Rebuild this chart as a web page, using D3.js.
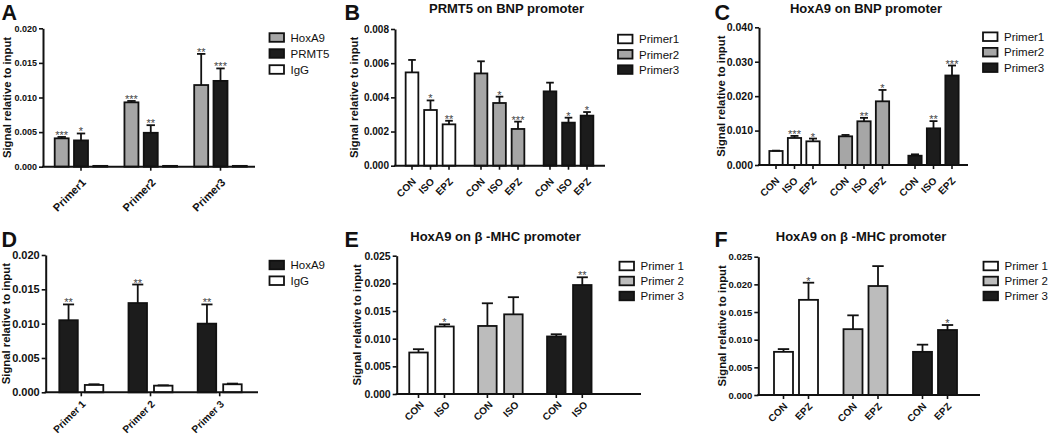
<!DOCTYPE html>
<html>
<head>
<meta charset="utf-8">
<script src="https://cdn.jsdelivr.net/npm/d3@7"></script>
<style>
  body { margin: 0; background: #fff; }
  text { font-family: "Liberation Sans", Arial, sans-serif; fill: #111; }
</style>
</head>
<body>
<script>
// panel A: ChIP at BNP promoter, per antibody
var primersA = ['Primer1', 'Primer2', 'Primer3']
var antibodiesA = ['HoxA9', 'PRMT5', 'IgG']
var meansA = [[0.0041, 0.0093, 0.0118], [0.0038, 0.0049, 0.0124], [0.00012, 0.00012, 0.00012]]
var errsA = [[0.0002, 0.0002, 0.0045], [0.0010, 0.0011, 0.0018], [0, 0, 0]]
var starsA = [['***', '***', '**'], ['*', '**', '***'], ['', '', '']]

// panel B: PRMT5 on BNP promoter
var primersB = ['Primer1', 'Primer2', 'Primer3']
var condB = ['CON', 'ISO', 'EPZ']
var meansB = [[0.00546, 0.00326, 0.00242], [0.00540, 0.00367, 0.00215], [0.00435, 0.00252, 0.00293]]
var errsB = [[0.00073, 0.00056, 0.00021], [0.00071, 0.00037, 0.00043], [0.00051, 0.00029, 0.00021]]
var starsB = [['', '*', '**'], ['', '*', '***'], ['', '*', '*']]

// panel C: HoxA9 on BNP promoter
var primersC = ['Primer1', 'Primer2', 'Primer3']
var condC = ['CON', 'ISO', 'EPZ']
var meansC = [[0.00407, 0.00785, 0.00688], [0.00833, 0.0127, 0.0185], [0.0027, 0.01065, 0.0260]]
var errsC = [[0.0001, 0.0006, 0.0008], [0.0004, 0.0010, 0.0033], [0.0004, 0.0021, 0.0029]]
var starsC = [['', '***', '*'], ['', '**', '*'], ['', '**', '***']]

// panel D: HoxA9 vs IgG
var primersD = ['Primer 1', 'Primer 2', 'Primer 3']
var antibodiesD = ['HoxA9', 'IgG']
var meansD = [[0.0105, 0.0130, 0.0100], [0.00107, 0.00097, 0.00117]]
var errsD = [[0.0023, 0.0027, 0.0028], [0.0001, 0.00005, 0.0001]]
var starsD = [['**', '**', '**'], ['', '', '']]

// panel E: HoxA9 on beta-MHC, ISO
var primersE = ['Primer 1', 'Primer 2', 'Primer 3']
var condE = ['CON', 'ISO']
var meansE = [[0.0075, 0.0122], [0.0123, 0.0144], [0.0104, 0.0197]]
var errsE = [[0.0006, 0.0004], [0.0041, 0.0031], [0.0004, 0.0014]]
var starsE = [['', '*'], ['', ''], ['', '**']]

// panel F: HoxA9 on beta-MHC, EPZ
var primersF = ['Primer 1', 'Primer 2', 'Primer 3']
var condF = ['CON', 'EPZ']
var meansF = [[0.0078, 0.0172], [0.0119, 0.0197], [0.0078, 0.01175]]
var errsF = [[0.0005, 0.0031], [0.0025, 0.0036], [0.0013, 0.0009]]
var starsF = [['', '*'], ['', ''], ['', '*']]

var WHITE = '#ffffff', GRAY = '#a6a6a6', LIGHT = '#bcbcbc', BLACK = '#1c1c1c'

var svg = d3.select('body').append('svg').attr('width', 1052).attr('height', 438)

// rows grouped by x group: by antibody (A, D) or by condition inside primer (B, C, E, F)
function rowsBySeries (groups, series, means, errs, stars) {
  var rows = []
  groups.forEach(function (g, gi) {
    series.forEach(function (s, si) {
      rows.push({group: g, key: s, value: means[si][gi], err: errs[si][gi], star: stars[si][gi], si: si})
    })
  })
  return rows
}
function rowsByPrimer (groups, conds, means, errs, stars) {
  var rows = []
  groups.forEach(function (g, gi) {
    conds.forEach(function (k, ki) {
      rows.push({group: g, key: k, value: means[gi][ki], err: errs[gi][ki], star: stars[gi][ki], si: gi})
    })
  })
  return rows
}

function drawPanel (c) {
  var g = svg.append('g')
  var y = d3.scaleLinear().domain([0, c.yMax]).range([c.y0, c.yTop])
  var gx = d3.scalePoint().domain(c.groups).range([c.c1, c.c3])
  var n = c.keys.length, pad = 1 - c.barW / c.step
  var kx = d3.scaleBand().domain(c.keys).range([-n * c.step / 2, n * c.step / 2]).paddingInner(pad).paddingOuter(pad / 2)
  var bw = kx.bandwidth()
  var cx = function (d) { return gx(d.group) + kx(d.key) + bw / 2 }

  /** y axis */
  var yAxis = d3.axisLeft(y).tickValues(d3.range(0, c.yMax + 1e-9, c.yStep))
    .tickFormat(d3.format('.3f')).tickSize(4).tickSizeOuter(0).tickPadding(2)
  var ya = g.append('g').attr('transform', 'translate(' + c.x0 + ',0)').call(yAxis)
  ya.select('.domain').attr('stroke', '#111').attr('stroke-width', 2)
  ya.selectAll('.tick line').attr('stroke', '#111').attr('stroke-width', 1.6)
  ya.selectAll('.tick text').attr('font-size', c.tickFont).attr('font-weight', 'bold')
    .attr('font-family', '"Liberation Sans", Arial, sans-serif').attr('fill', '#111')

  /** bars */
  g.selectAll('rect.bar').data(c.rows).enter().append('rect').attr('class', 'bar')
    .attr('x', function (d) { return gx(d.group) + kx(d.key) })
    .attr('y', function (d) { return y(d.value) })
    .attr('width', bw)
    .attr('height', function (d) { return c.y0 - y(d.value) })
    .attr('fill', function (d) { return c.fills[d.si] })
    .attr('stroke', '#111').attr('stroke-width', 1.8)

  /** error bars */
  var eb = c.rows.filter(function (d) { return d.err > 0 })
  g.selectAll('line.stem').data(eb).enter().append('line')
    .attr('x1', cx).attr('x2', cx)
    .attr('y1', function (d) { return y(d.value) })
    .attr('y2', function (d) { return y(d.value + d.err) })
    .attr('stroke', '#111').attr('stroke-width', 1.8)
  g.selectAll('line.cap').data(eb).enter().append('line')
    .attr('x1', function (d) { return cx(d) - bw * 0.3 })
    .attr('x2', function (d) { return cx(d) + bw * 0.3 })
    .attr('y1', function (d) { return y(d.value + d.err) })
    .attr('y2', function (d) { return y(d.value + d.err) })
    .attr('stroke', '#111').attr('stroke-width', 1.8)

  /** significance stars */
  g.selectAll('text.star').data(c.rows.filter(function (d) { return d.star })).enter().append('text')
    .attr('x', cx)
    .attr('y', function (d) { return y(d.value + d.err) + 2 })
    .attr('text-anchor', 'middle').attr('font-size', 11).style('fill', '#444')
    .text(function (d) { return d.star })

  /** x axis */
  g.append('line').attr('x1', c.x0 - 1).attr('x2', c.x1).attr('y1', c.y0).attr('y2', c.y0)
    .attr('stroke', '#111').attr('stroke-width', 2)
  var xt
  if (c.labelBy === 'group') {
    xt = c.groups.map(function (gname) { return {x: gx(gname), label: gname} })
  } else {
    xt = c.rows.map(function (d) { return {x: cx(d), label: d.key} })
  }
  g.selectAll('line.xt').data(xt).enter().append('line')
    .attr('x1', function (d) { return d.x }).attr('x2', function (d) { return d.x })
    .attr('y1', c.y0).attr('y2', c.y0 + 4)
    .attr('stroke', '#111').attr('stroke-width', 1.6)
  g.selectAll('text.xl').data(xt).enter().append('text')
    .attr('transform', function (d) { return 'translate(' + (d.x + c.lx) + ',' + (c.y0 + c.ly) + ') rotate(-45)' })
    .attr('text-anchor', 'end').attr('font-size', c.xFont).attr('font-weight', 'bold')
    .text(function (d) { return d.label })

  /** y title */
  g.append('text')
    .attr('transform', 'translate(' + c.ytx + ',' + ((c.y0 + c.yTop) / 2) + ') rotate(-90)')
    .attr('text-anchor', 'middle').attr('font-size', 11.3).attr('font-weight', 'bold')
    .text('Signal relative to input')

  /** panel letter and title */
  g.append('text').attr('x', c.letter[1]).attr('y', c.letter[2]).attr('font-size', 21.5)
    .attr('font-weight', 'bold').text(c.letter[0])
  if (c.title) {
    g.append('text').attr('x', c.title[1]).attr('y', c.title[2]).attr('text-anchor', 'middle')
      .attr('font-size', 13).attr('font-weight', 'bold').text(c.title[0])
  }

  /** legend */
  var lg = g.selectAll('g.lg').data(c.legendNames).enter().append('g')
    .attr('transform', function (d, i) { return 'translate(' + c.legend[0] + ',' + (c.legend[1] + i * c.legend[2]) + ')' })
  lg.append('rect').attr('x', 0).attr('y', -4.3).attr('width', 14.5).attr('height', 8.6)
    .attr('fill', function (d, i) { return c.fills[i] }).attr('stroke', '#111').attr('stroke-width', 1.8)
  lg.append('text').attr('x', 21).attr('y', 4.2).attr('font-size', 11.5).text(function (d) { return d })
}

drawPanel({
  rows: rowsBySeries(primersA, antibodiesA, meansA, errsA, starsA),
  groups: primersA, keys: antibodiesA, fills: [GRAY, BLACK, WHITE], legendNames: antibodiesA,
  yMax: 0.02, yStep: 0.005, y0: 166.7, yTop: 28.3, x0: 43, x1: 255,
  c1: 81, c3: 220.5, step: 19.3, barW: 14, labelBy: 'group', lx: 5.5, ly: 16.5, xFont: 11,
  tickFont: 9, ytx: 10.5, letter: ['A', 1.5, 19.6], title: null, legend: [269.5, 37.5, 16]
})
drawPanel({
  rows: rowsByPrimer(primersB, condB, meansB, errsB, starsB),
  groups: primersB, keys: condB, fills: [WHITE, GRAY, BLACK], legendNames: primersB,
  yMax: 0.008, yStep: 0.002, y0: 165.7, yTop: 29, x0: 395, x1: 605,
  c1: 430.5, c3: 568.5, step: 18.5, barW: 12.7, labelBy: 'key', lx: 4.5, ly: 16.5, xFont: 10,
  tickFont: 10, ytx: 358, letter: ['B', 344.5, 19.6], title: ['PRMT5 on BNP promoter', 506.5, 12.5], legend: [618, 39, 15.3]
})
drawPanel({
  rows: rowsByPrimer(primersC, condC, meansC, errsC, starsC),
  groups: primersC, keys: condC, fills: [WHITE, GRAY, BLACK], legendNames: primersC,
  yMax: 0.04, yStep: 0.01, y0: 165, yTop: 27.3, x0: 759, x1: 968,
  c1: 794.5, c3: 933.5, step: 18.5, barW: 13.3, labelBy: 'key', lx: 4, ly: 16.5, xFont: 10,
  tickFont: 10.5, ytx: 725, letter: ['C', 714.5, 19.6], title: ['HoxA9 on BNP promoter', 866, 12.5], legend: [983, 36.7, 15.5]
})
drawPanel({
  rows: rowsBySeries(primersD, antibodiesD, meansD, errsD, starsD),
  groups: primersD, keys: antibodiesD, fills: [BLACK, WHITE], legendNames: antibodiesD,
  yMax: 0.02, yStep: 0.005, y0: 392.3, yTop: 255, x0: 45.7, x1: 258,
  c1: 81.3, c3: 219.7, step: 25.5, barW: 18.5, labelBy: 'group', lx: 5, ly: 12.5, xFont: 10.2,
  tickFont: 11, ytx: 9.5, letter: ['D', 1.5, 246.5], title: null, legend: [269.5, 265, 15.7]
})
drawPanel({
  rows: rowsByPrimer(primersE, condE, meansE, errsE, starsE),
  groups: primersE, keys: condE, fills: [WHITE, LIGHT, BLACK], legendNames: primersE,
  yMax: 0.025, yStep: 0.005, y0: 394, yTop: 255.7, x0: 396.7, x1: 641,
  c1: 431.5, c3: 569.3, step: 26, barW: 18.5, labelBy: 'key', lx: 6, ly: 11.5, xFont: 10,
  tickFont: 10.5, ytx: 361, letter: ['E', 344.5, 246.5], title: ['HoxA9 on \u03b2 -MHC promoter', 495.5, 241], legend: [619.5, 266, 15]
})
drawPanel({
  rows: rowsByPrimer(primersF, condF, meansF, errsF, starsF),
  groups: primersF, keys: condF, fills: [WHITE, LIGHT, BLACK], legendNames: primersF,
  yMax: 0.025, yStep: 0.005, y0: 395, yTop: 256.7, x0: 758.3, x1: 980,
  c1: 796, c3: 935, step: 25, barW: 19, labelBy: 'key', lx: 4.5, ly: 12, xFont: 10,
  tickFont: 9.5, ytx: 726, letter: ['F', 714.5, 246.5], title: ['HoxA9 on \u03b2 -MHC promoter', 861, 241], legend: [983.5, 266, 15]
})
</script>
</body>
</html>
